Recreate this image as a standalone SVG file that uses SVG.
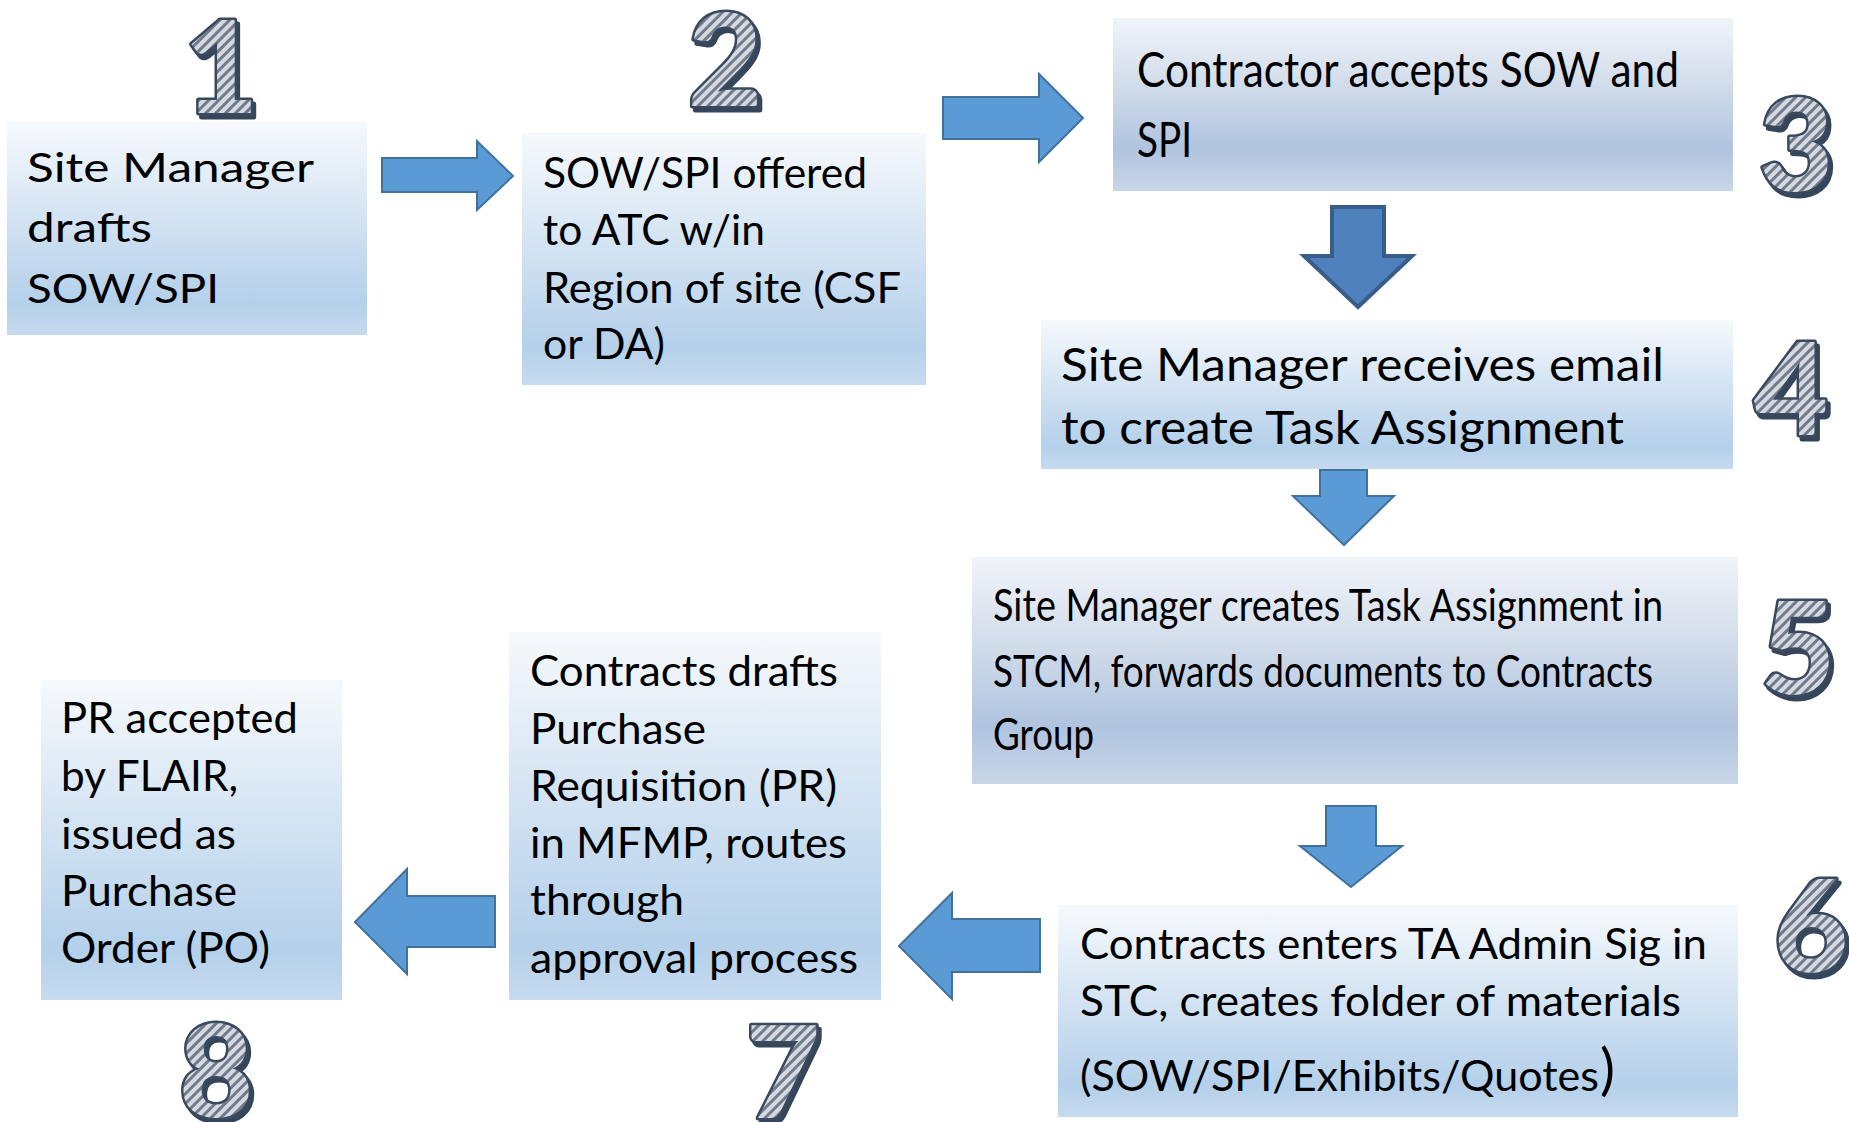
<svg xmlns="http://www.w3.org/2000/svg" width="1849" height="1122" viewBox="0 0 1849 1122">
<defs>
<linearGradient id="gBlue" x1="0" y1="0" x2="0" y2="1">
<stop offset="0" stop-color="#f6f9fc"/>
<stop offset="0.45" stop-color="#d3e3f3"/>
<stop offset="0.85" stop-color="#b4d0ea"/>
<stop offset="1" stop-color="#c6dbef"/>
</linearGradient>
<linearGradient id="gGray" x1="0" y1="0" x2="0" y2="1">
<stop offset="0" stop-color="#f1f4f9"/>
<stop offset="0.4" stop-color="#d0dbea"/>
<stop offset="0.75" stop-color="#b0c4df"/>
<stop offset="1" stop-color="#c8d6e8"/>
</linearGradient>
<pattern id="hatch" width="7" height="7" patternUnits="userSpaceOnUse" patternTransform="rotate(45)">
<rect width="7" height="7" fill="#d6dae0"/>
<rect width="3" height="7" fill="#707b8b"/>
</pattern>
<filter id="ds" x="-20%" y="-20%" width="140%" height="140%">
<feDropShadow dx="3" dy="4" stdDeviation="0.6" flood-color="#36455a" flood-opacity="1"/>
</filter>
</defs>
<style>
.t { font-family: Lato, "Open Sans", sans-serif; fill: #000; }
.num { font-family: Lato, sans-serif; font-weight: 900; font-size: 128px; text-anchor: middle; fill: url(#hatch); stroke: #3a4a5f; stroke-width: 5; stroke-linejoin: round; paint-order: stroke; filter: url(#ds); }
.arr { fill: #5b9bd5; stroke: #41719c; stroke-width: 2; }
.arr-dk { fill: #4f81bd; stroke: #385d8a; stroke-width: 4; }
</style>
<rect width="1849" height="1122" fill="#ffffff"/>

<g id="node-1">
<rect x="7" y="122" width="360" height="213" fill="url(#gBlue)"/>
<g class="t" font-size="40">
<text x="27" y="182" textLength="287" lengthAdjust="spacingAndGlyphs">Site Manager</text>
<text x="27" y="242" textLength="125" lengthAdjust="spacingAndGlyphs">drafts</text>
<text x="27" y="303" textLength="192" lengthAdjust="spacingAndGlyphs">SOW/SPI</text>
</g>
<text class="num" x="221" y="113">1</text>
</g>

<g id="node-2">
<rect x="522" y="133" width="404" height="252" fill="url(#gBlue)"/>
<g class="t" font-size="42">
<text x="543" y="188" textLength="324" lengthAdjust="spacingAndGlyphs">SOW/SPI offered</text>
<text x="543" y="245" textLength="222" lengthAdjust="spacingAndGlyphs">to ATC w/in</text>
<text x="543" y="303" textLength="358" lengthAdjust="spacingAndGlyphs">Region of site (CSF</text>
<text x="543" y="359" textLength="122" lengthAdjust="spacingAndGlyphs">or DA)</text>
</g>
<text class="num" x="725" y="106">2</text>
</g>

<g id="node-3">
<rect x="1113" y="18" width="620" height="173" fill="url(#gGray)"/>
<g class="t" font-size="49">
<text x="1137" y="87" textLength="542" lengthAdjust="spacingAndGlyphs">Contractor accepts SOW and</text>
<text x="1137" y="157" textLength="55" lengthAdjust="spacingAndGlyphs">SPI</text>
</g>
<text class="num" x="1796" y="191">3</text>
</g>

<g id="node-4">
<rect x="1041" y="320" width="692" height="149" fill="url(#gBlue)"/>
<g class="t" font-size="46">
<text x="1061" y="381" textLength="603" lengthAdjust="spacingAndGlyphs">Site Manager receives email</text>
<text x="1061" y="444" textLength="563" lengthAdjust="spacingAndGlyphs">to create Task Assignment</text>
</g>
<text class="num" x="1791" y="435">4</text>
</g>

<g id="node-5">
<rect x="972" y="557" width="766" height="227" fill="url(#gGray)"/>
<g class="t" font-size="45">
<text x="993" y="621" textLength="670" lengthAdjust="spacingAndGlyphs">Site Manager creates Task Assignment in</text>
<text x="993" y="687" textLength="660" lengthAdjust="spacingAndGlyphs">STCM, forwards documents to Contracts</text>
<text x="993" y="750" textLength="101" lengthAdjust="spacingAndGlyphs">Group</text>
</g>
<text class="num" x="1798" y="694">5</text>
</g>

<g id="node-6">
<rect x="1058" y="905" width="680" height="212" fill="url(#gBlue)"/>
<g class="t" font-size="42">
<text x="1080" y="959" textLength="627" lengthAdjust="spacingAndGlyphs">Contracts enters TA Admin Sig in</text>
<text x="1080" y="1016" textLength="601" lengthAdjust="spacingAndGlyphs">STC, creates folder of materials</text>
<text x="1080" y="1091" textLength="519" lengthAdjust="spacingAndGlyphs">(SOW/SPI/Exhibits/Quotes</text>
<text x="1600" y="1089" font-size="56">)</text>
</g>
<text class="num" x="1811" y="972">6</text>
</g>

<g id="node-7">
<rect x="509" y="632" width="372" height="368" fill="url(#gBlue)"/>
<g class="t" font-size="43">
<text x="530" y="686" textLength="308" lengthAdjust="spacingAndGlyphs">Contracts drafts</text>
<text x="530" y="744" textLength="176" lengthAdjust="spacingAndGlyphs">Purchase</text>
<text x="530" y="801" textLength="307" lengthAdjust="spacingAndGlyphs">Requisition (PR)</text>
<text x="530" y="858" textLength="317" lengthAdjust="spacingAndGlyphs">in MFMP, routes</text>
<text x="530" y="915" textLength="154" lengthAdjust="spacingAndGlyphs">through</text>
<text x="530" y="973" textLength="328" lengthAdjust="spacingAndGlyphs">approval process</text>
</g>
<text class="num" x="783" y="1118">7</text>
</g>

<g id="node-8">
<rect x="41" y="680" width="301" height="320" fill="url(#gBlue)"/>
<g class="t" font-size="43">
<text x="61" y="733" textLength="237" lengthAdjust="spacingAndGlyphs">PR accepted</text>
<text x="61" y="791" textLength="177" lengthAdjust="spacingAndGlyphs">by FLAIR,</text>
<text x="61" y="849" textLength="175" lengthAdjust="spacingAndGlyphs">issued as</text>
<text x="61" y="906" textLength="176" lengthAdjust="spacingAndGlyphs">Purchase</text>
<text x="61" y="963" textLength="209" lengthAdjust="spacingAndGlyphs">Order (PO)</text>
</g>
<text class="num" x="216" y="1117">8</text>
</g>

<g id="connectors">
<path class="arr" d="M382,158 H477 V141 L513,176 L477,210 V192 H382 Z"/>
<path class="arr" d="M943,97 H1039 V74 L1083,118 L1039,162 V139 H943 Z"/>
<path class="arr-dk" d="M1332,207 H1384 V256 H1412 L1358,307 L1304,256 H1332 Z"/>
<path class="arr" d="M1320,470 H1367 V496 H1394 L1344,545 L1293,496 H1320 Z"/>
<path class="arr" d="M1326,806 H1376 V846 H1402 L1351,887 L1300,846 H1326 Z"/>
<path class="arr" d="M1040,919 H952 V893 L899,946 L952,999 V972 H1040 Z"/>
<path class="arr" d="M495,896 H407 V869 L355,922 L407,974 V947 H495 Z"/>
</g>
</svg>
